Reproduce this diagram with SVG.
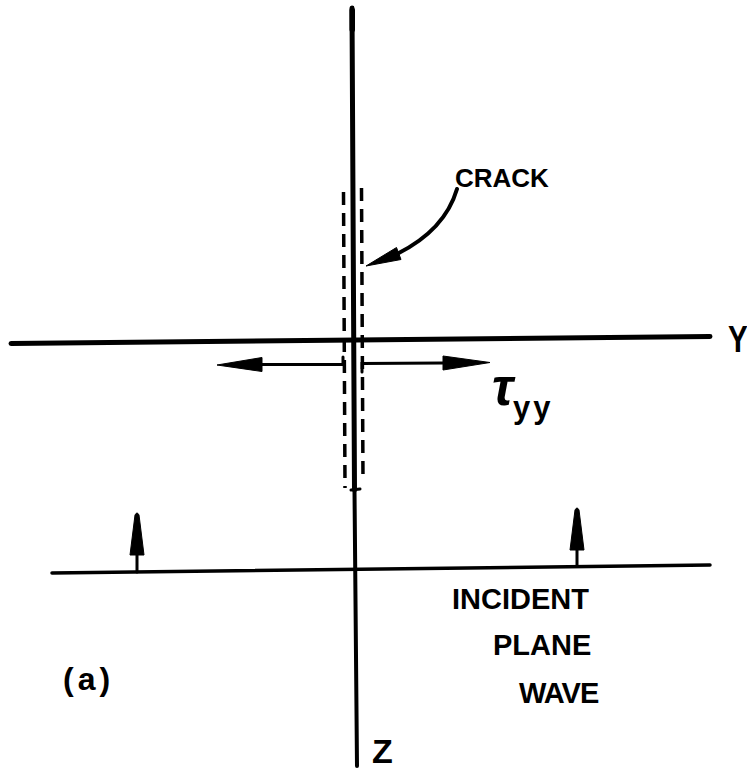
<svg xmlns="http://www.w3.org/2000/svg" width="747" height="772" viewBox="0 0 747 772">
  <style>
    .ln { stroke: #000; fill: none; stroke-linecap: round; }
    .dash { stroke: #000; fill: none; stroke-width: 3.5; stroke-dasharray: 13 8; }
    .lbl { font-family: "Liberation Sans", Arial, sans-serif; fill: #000; font-weight: bold; }
    .head { fill: #000; stroke: #000; stroke-width: 1; stroke-linejoin: round; }
  </style>
  <rect width="747" height="772" fill="#fff"/>

  <g id="axes">
    <!-- vertical Z axis -->
    <line class="ln" x1="352" y1="8" x2="354.5" y2="490" stroke-width="5"/>
    <line class="ln" x1="354.5" y1="490" x2="357" y2="766" stroke-width="4"/>
    <rect x="349.5" y="8" width="5.5" height="24" fill="#000" rx="2"/>
    <line class="ln" x1="351" y1="490" x2="360" y2="489" stroke-width="3"/>
    <!-- horizontal Y axis -->
    <line class="ln" x1="11" y1="343.5" x2="710" y2="336.5" stroke-width="5"/>
    <text class="lbl" transform="translate(728,352) scale(0.8,1)" font-size="37">Y</text>
    <text class="lbl" x="372" y="763" font-size="34">Z</text>
  </g>

  <g id="crack">
    <line class="dash" x1="343.5" y1="192" x2="345" y2="488"/>
    <line class="dash" x1="361.5" y1="188" x2="363" y2="481"/>
    <text class="lbl" x="455" y="187" font-size="26">CRACK</text>
  </g>

  <g id="connectors">
    <!-- crack leader -->
    <path class="ln" d="M457,189 Q445,230 397,254" stroke-width="4"/>
    <polygon class="head" points="366,266 396.5,247.5 401,259.5"/>
    <!-- tau_yy arrows -->
    <polyline class="ln" points="343,357 343,364.5 262,364.5" stroke-width="3"/>
    <polygon class="head" points="217,365 262,357.5 262,371.5"/>
    <polyline class="ln" points="362,372 362,363.5 443,363" stroke-width="3"/>
    <polygon class="head" points="490,362.5 443,356 443,370"/>
  </g>

  <g id="stress-label">
    <text class="lbl" x="492" y="405" font-size="52" font-style="italic">τ</text>
    <text class="lbl" x="513" y="418" font-size="31" letter-spacing="3">yy</text>
  </g>

  <g id="incident-wave">
    <line class="ln" x1="52" y1="573" x2="710" y2="565" stroke-width="3.5"/>
    <line class="ln" x1="137" y1="572" x2="137" y2="553" stroke-width="3"/>
    <path class="head" d="M130,555 L144,555 L139,515 Q137,511 135,515 Z"/>
    <line class="ln" x1="577" y1="566" x2="577" y2="548" stroke-width="3"/>
    <path class="head" d="M570,550 L584,550 L579,510 Q577,506 575,510 Z"/>
    <text class="lbl" x="452" y="609" font-size="29">INCIDENT</text>
    <text class="lbl" x="493" y="655" font-size="29">PLANE</text>
    <text class="lbl" x="519" y="703" font-size="29" letter-spacing="-1">WAVE</text>
  </g>

  <g id="panel-label">
    <text class="lbl" x="63" y="690" font-size="32" letter-spacing="4">(a)</text>
  </g>
</svg>
